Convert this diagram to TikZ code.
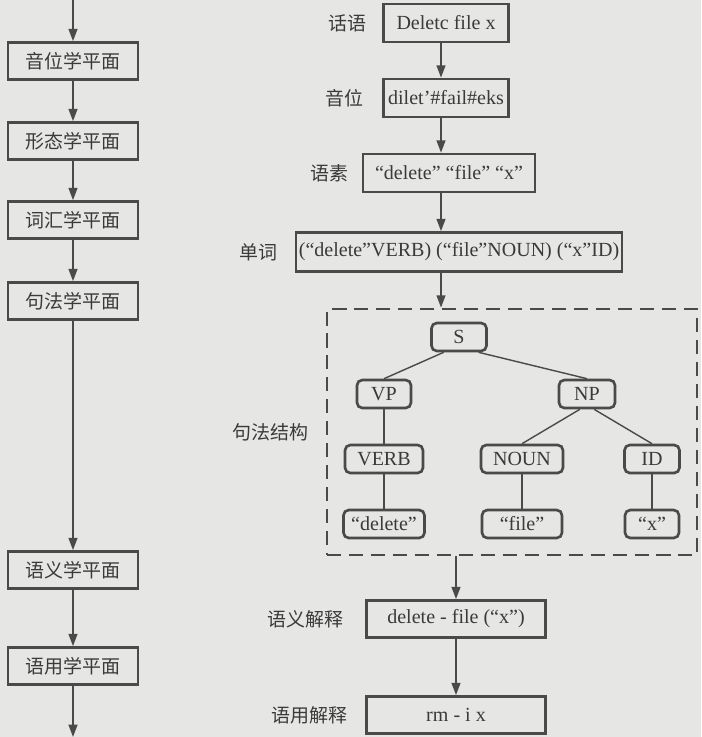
\documentclass[tikz,border=0pt]{standalone}
\usepackage{fontspec}
\setmainfont{Liberation Serif}
\newfontfamily\cjk{Noto Sans CJK SC}
\usetikzlibrary{arrows.meta, positioning}
\definecolor{pageGrey}{HTML}{E6E6E4}
\definecolor{inkGrey}{HTML}{4A4A4A}
\definecolor{textGrey}{HTML}{3A3A3A}
\tikzset{
    plane node/.style={rectangle, draw=inkGrey, line width=1.5pt, minimum width=2.6cm, minimum height=0.74cm,
        inner sep=0pt, align=center, font=\cjk\fontsize{10.8}{13}\selectfont, text=textGrey},
    step node/.style={rectangle, draw=inkGrey, line width=1.5pt, minimum height=0.76cm,
        inner sep=0pt, align=center, font=\fontsize{11.4}{13}\selectfont, text=textGrey},
    tree node/.style={rectangle, draw=inkGrey, line width=1.5pt, rounded corners=3pt, minimum height=0.56cm,
        inner sep=0pt, align=center, font=\fontsize{11.4}{13}\selectfont, text=textGrey},
    level label/.style={inner sep=0pt, font=\cjk\fontsize{10.8}{13}\selectfont, text=textGrey},
    arrow style/.style={-{Triangle[length=7pt,width=5pt]}, line width=1pt, inkGrey},
    tree edge/.style={line width=0.8pt, inkGrey},
    syntax box/.style={rectangle, draw=inkGrey, line width=1.6pt, dash pattern=on 8pt off 4.5pt},
}

\begin{document}
\begin{tikzpicture}[x=0.02cm, y=-0.02cm]
    \fill[pageGrey] (0,0) rectangle (701,737);
    \useasboundingbox (0,0) rectangle (701,737);

    % levels of language
    \node[plane node] (p1) at (73,61) {音位学平面};
    \node[plane node] (p2) at (73,141) {形态学平面};
    \node[plane node] (p3) at (73,220) {词汇学平面};
    \node[plane node] (p4) at (73,301) {句法学平面};
    \node[plane node] (p5) at (73,570) {语义学平面};
    \node[plane node] (p6) at (73,666) {语用学平面};
    \coordinate (ltop) at (73,0);
    \coordinate (lbot) at (73,737);

    \draw[arrow style] (ltop) -- (p1);
    \draw[arrow style] (p1) -- (p2);
    \draw[arrow style] (p2) -- (p3);
    \draw[arrow style] (p3) -- (p4);
    \draw[arrow style] (p4) -- (p5);
    \draw[arrow style] (p5) -- (p6);
    \draw[arrow style] (p6) -- (lbot);

    % example: deleting a file
    \node[step node, minimum width=2.5cm] (utt) at (446,23) {Deletc file x};
    \node[step node, minimum width=2.5cm] (phon) at (446,98) {dilet’\#fail\#eks};
    \node[step node, minimum width=3.44cm] (morph) at (449,173) {“delete” “file” “x”};
    \node[step node, minimum width=6.52cm, minimum height=0.78cm] (words) at (459,252) {(“delete”VERB) (“file”NOUN) (“x”ID)};
    \node[syntax box, minimum width=7.4cm, minimum height=4.92cm] (syn) at (512,432) {};
    \node[step node, minimum width=3.58cm, minimum height=0.74cm] (sem) at (456,619) {delete - file (“x”)};
    \node[step node, minimum width=3.58cm, minimum height=0.74cm] (prag) at (456,715) {rm - i x};
    \coordinate (axis) at (441,0);

    \node[level label, left=0.3cm of utt] {话语};
    \node[level label, left=0.36cm of phon] {音位};
    \node[level label, left=0.26cm of morph] {语素};
    \node[level label, left=0.34cm of words] {单词};
    \node[level label, left=0.34cm of syn] {句法结构};
    \node[level label, left=0.42cm of sem] {语义解释};
    \node[level label, left=0.34cm of prag] {语用解释};

    \draw[arrow style] (utt.south -| axis) -- (phon.north -| axis);
    \draw[arrow style] (phon.south -| axis) -- (morph.north -| axis);
    \draw[arrow style] (morph.south -| axis) -- (words.north -| axis);
    \draw[arrow style] (words.south -| axis) -- (syn.north -| axis);
    \draw[arrow style] (syn.south -| sem.north) -- (sem.north);
    \draw[arrow style] (sem) -- (prag);

    % parse tree
    \node[tree node, minimum width=1.1cm] (S) at (459,337) {S};
    \node[tree node, minimum width=1.08cm] (VP) at (384,394) {VP};
    \node[tree node, minimum width=1.12cm] (NP) at (587,394) {NP};
    \node[tree node, minimum width=1.56cm] (VERB) at (384,459) {VERB};
    \node[tree node, minimum width=1.64cm] (NOUN) at (522,459) {NOUN};
    \node[tree node, minimum width=1.1cm] (ID) at (652,459) {ID};
    \node[tree node, minimum width=1.62cm] (wdel) at (384,524) {“delete”};
    \node[tree node, minimum width=1.6cm] (wfile) at (522,524) {“file”};
    \node[tree node, minimum width=1.08cm] (wx) at (652,524) {“x”};

    \draw[tree edge] (S.-135) -- (VP.north);
    \draw[tree edge] (S.-38) -- (NP.north);
    \draw[tree edge] (VP) -- (VERB);
    \draw[tree edge] (NP.-115) -- (NOUN.north);
    \draw[tree edge] (NP.-65) -- (ID.north);
    \draw[tree edge] (VERB) -- (wdel);
    \draw[tree edge] (NOUN) -- (wfile);
    \draw[tree edge] (ID) -- (wx);
\end{tikzpicture}
\end{document}
